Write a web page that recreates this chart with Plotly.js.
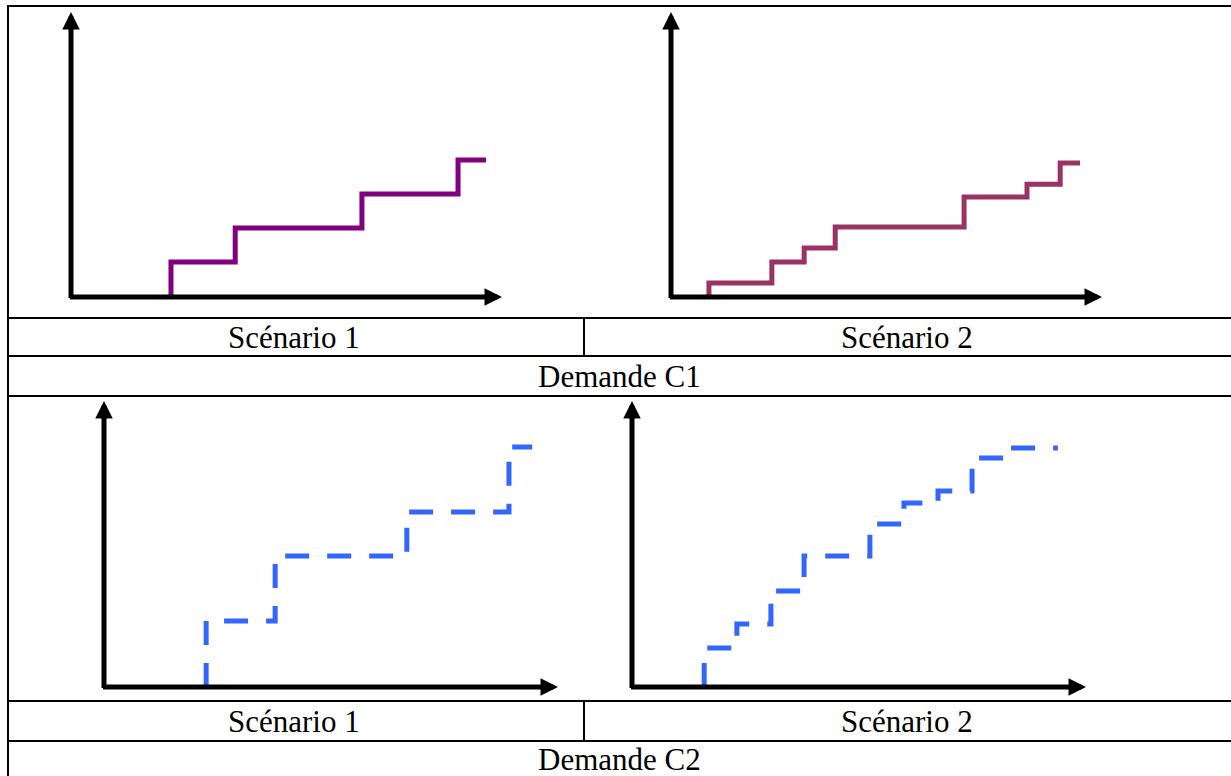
<!DOCTYPE html>
<html>
<head>
<meta charset="utf-8">
<script src="https://cdn.plot.ly/plotly-3.0.1.min.js"></script>
<style>html,body{margin:0;padding:0;background:#fff;}#chart{width:1231px;height:776px;}</style>
</head>
<body>
<div id="chart"></div>
<script>
// ---- Data (axis units 0..100 on each small chart) ----
const panelLabels = ["Scénario 1", "Scénario 2"];
const groupLabels = ["Demande C1", "Demande C2"];

// Demande C1 – Scénario 1 (step positions and levels)
const c1s1X = [23.2, 38.1, 67.5, 89.8, 96.3];
const c1s1Y = [0, 12.3, 24.2, 36.1, 48.1];
// Demande C1 – Scénario 2
const c1s2X = [8.8, 23.4, 30.9, 38.1, 68.0, 82.6, 90.3, 94.9];
const c1s2Y = [0, 4.9, 12.3, 17.2, 24.6, 35.1, 39.6, 47.0];
// Demande C2 – Scénario 1
const c2s1X = [22.5, 37.7, 66.7, 89.2, 94.3];
const c2s1Y = [0, 23.1, 45.8, 61.2, 83.9];
// Demande C2 – Scénario 2
const c2s2X = [15.9, 23.1, 30.6, 37.9, 52.4, 59.9, 67.4, 74.9, 82.2, 93.8];
const c2s2Y = [0, 13.6, 22.0, 33.6, 45.8, 57.0, 64.3, 68.5, 80.1, 83.6];

// ---- Layout geometry (pixels) ----
const W = 1231, H = 776;
const px = v => v / W;
const py = v => 1 - v / H;

// each panel: origin (x0,y0) and arrow tips (x1 for x-axis, y1 for y-axis)
const panels = [
  {x0: 71,  x1: 502,  y0: 297, y1: 12,  X: c1s1X, Y: c1s1Y, color: "#800080", dash: "solid"},
  {x0: 671, x1: 1102, y0: 297, y1: 12,  X: c1s2X, Y: c1s2Y, color: "#993366", dash: "solid"},
  {x0: 104, x1: 558,  y0: 687, y1: 401, X: c2s1X, Y: c2s1Y, color: "#3366FF", dash: "24px,18px"},
  {x0: 632, x1: 1086, y0: 687, y1: 401, X: c2s2X, Y: c2s2Y, color: "#3366FF", dash: "24px,18px"}
];

const traces = [];
const layout = {
  width: W, height: H, autosize: false,
  margin: {l: 0, r: 0, t: 0, b: 0, pad: 0},
  paper_bgcolor: "#ffffff", plot_bgcolor: "rgba(0,0,0,0)",
  showlegend: false,
  shapes: [], annotations: []
};

panels.forEach((p, i) => {
  const n = i + 1;
  const xa = n === 1 ? "x" : "x" + n;
  const ya = n === 1 ? "y" : "y" + n;
  const xk = n === 1 ? "xaxis" : "xaxis" + n;
  const yk = n === 1 ? "yaxis" : "yaxis" + n;
  const axCommon = {range: [0, 100], autorange: false, showgrid: false, zeroline: false,
                    showline: false, showticklabels: false, ticks: "", fixedrange: true};
  layout[xk] = Object.assign({}, axCommon, {domain: [px(p.x0), px(p.x1)], anchor: ya});
  layout[yk] = Object.assign({}, axCommon, {domain: [py(p.y0), py(p.y1)], anchor: xa});

  traces.push({
    type: "scatter", mode: "lines", x: p.X, y: p.Y, xaxis: xa, yaxis: ya,
    line: {shape: "vh", color: p.color, width: 5, dash: p.dash},
    hoverinfo: "skip", cliponaxis: false
  });

  const extX = 2.5 / ((p.x1 - p.x0) / 100);
  const extY = 2.5 / ((p.y0 - p.y1) / 100);
  // x axis arrow
  layout.annotations.push({xref: xa, yref: ya, axref: xa, ayref: ya,
    x: 100, y: 0, ax: -extX, ay: 0, text: "", showarrow: true,
    arrowhead: 2, arrowsize: 0.7, arrowwidth: 5, arrowcolor: "#000000"});
  // y axis arrow
  layout.annotations.push({xref: xa, yref: ya, axref: xa, ayref: ya,
    x: 0, y: 100, ax: 0, ay: -extY, text: "", showarrow: true,
    arrowhead: 2, arrowsize: 0.7, arrowwidth: 5, arrowcolor: "#000000"});
});

// ---- Table lines ----
const lineStyle = {color: "#000000", width: 2};
function hline(y, xa, xb) {
  layout.shapes.push({type: "line", xref: "paper", yref: "paper",
    x0: px(xa), x1: px(xb), y0: py(y), y1: py(y), line: lineStyle});
}
function vline(x, ya, yb) {
  layout.shapes.push({type: "line", xref: "paper", yref: "paper",
    x0: px(x), x1: px(x), y0: py(ya), y1: py(yb), line: lineStyle});
}
[6, 318, 356, 396, 701, 741].forEach(y => hline(y, 7, 1231));
vline(8, 5, 776);
vline(584, 318, 356);
vline(584, 701, 741);

// ---- Table texts ----
const txtFont = {family: "'Liberation Serif', 'Times New Roman', serif", size: 31, color: "#000000"};
function label(text, x, y) {
  layout.annotations.push({xref: "paper", yref: "paper", x: px(x), y: py(y),
    xanchor: "center", yanchor: "middle", text: text, showarrow: false, font: txtFont});
}
label(panelLabels[0], 294, 337);
label(panelLabels[1], 907.5, 337);
label(groupLabels[0], 619.5, 376);
label(panelLabels[0], 294, 721);
label(panelLabels[1], 907.5, 721);
label(groupLabels[1], 619.5, 759);

Plotly.newPlot("chart", traces, layout, {displayModeBar: false, staticPlot: true});
</script>
</body>
</html>
